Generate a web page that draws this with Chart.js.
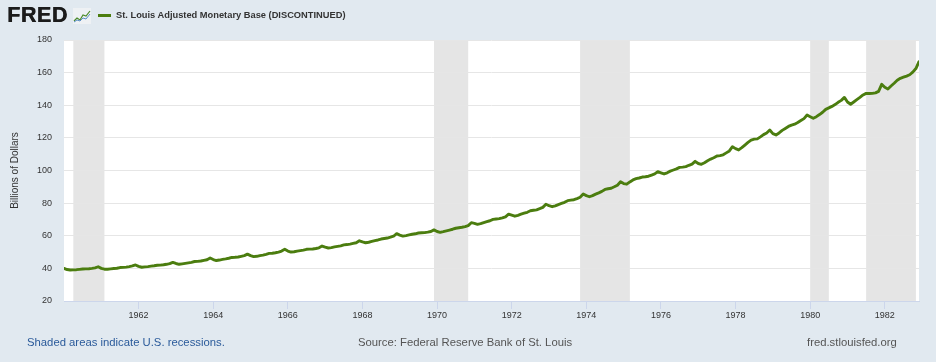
<!DOCTYPE html>
<html>
<head>
<meta charset="utf-8">
<script src="https://cdn.jsdelivr.net/npm/chart.js@4.4.1/dist/chart.umd.min.js"></script>
<style>
html,body{margin:0;padding:0;background:#e1e9f0;}
#wrap{position:relative;width:936px;height:362px;overflow:hidden;font-family:'Liberation Sans',Arial,sans-serif;background:#e1e9f0;}
#c{position:absolute;left:0;top:0;}
.logo{position:absolute;left:7px;top:1px;font-size:21.5px;font-weight:bold;letter-spacing:0.6px;color:#1b1b1b;line-height:28px;text-shadow:0.5px 0 0 #1b1b1b;}
.icon{position:absolute;left:73px;top:8px;}
.legline{position:absolute;left:98px;top:14px;width:13px;height:3px;background:#4b7d0f;}
.title{position:absolute;left:116px;top:9px;font-size:9.3px;font-weight:bold;color:#333;line-height:13px;white-space:nowrap;}
.foot{position:absolute;top:335px;font-size:11.3px;line-height:14px;white-space:nowrap;}
.f1{left:27px;color:#2a5a9a;}
.f2{left:358px;color:#555;}
.f3{left:807px;color:#555;}
</style>
</head>
<body>
<div id="wrap">
<canvas id="c" width="936" height="362"></canvas>
<div class="logo">FRED</div>
<svg class="icon" width="18" height="16" viewBox="0 0 18 16">
<rect x="0" y="0" width="18" height="16" fill="#eef1f4"/>
<polyline points="1,13 4,10 7,12 10,7 13,8 17,3" fill="none" stroke="#4b8a2a" stroke-width="1.2"/>
<polyline points="1,14 4,12 7,13 10,10 13,11 17,6" fill="none" stroke="#5b8fc7" stroke-width="1"/>
</svg>
<div class="legline"></div>
<div class="title">St. Louis Adjusted Monetary Base (DISCONTINUED)</div>
<div class="foot f1">Shaded areas indicate U.S. recessions.</div>
<div class="foot f2">Source: Federal Reserve Bank of St. Louis</div>
<div class="foot f3">fred.stlouisfed.org</div>
</div>
<script>
// Monthly data, January 1960 to December 1982 (billions of dollars)
const startYear = 1960;
const monetaryBase = [
  40.0, 39.3, 39.0, 39.1, 39.2, 39.4, 39.6, 39.7, 39.8, 40.0, 40.3, 41.0, // 1960
  40.0, 39.5, 39.5, 39.7, 39.9, 40.1, 40.5, 40.6, 40.8, 41.1, 41.5, 42.1, // 1961
  41.2, 40.7, 40.9, 41.1, 41.4, 41.6, 41.9, 42.0, 42.2, 42.5, 42.9, 43.7, // 1962
  43.0, 42.5, 42.8, 43.1, 43.4, 43.7, 44.2, 44.3, 44.5, 44.9, 45.3, 46.4, // 1963
  45.4, 44.8, 45.1, 45.5, 45.8, 46.2, 46.7, 46.8, 47.0, 47.4, 47.8, 48.7, // 1964
  47.8, 47.2, 47.4, 47.8, 48.1, 48.6, 49.2, 49.3, 49.6, 50.0, 50.6, 51.7, // 1965
  50.6, 50.0, 50.2, 50.6, 50.9, 51.2, 51.7, 51.8, 51.9, 52.2, 52.6, 53.7, // 1966
  53.0, 52.5, 52.7, 53.2, 53.5, 53.8, 54.4, 54.6, 54.9, 55.3, 55.7, 56.9, // 1967
  56.2, 55.7, 56.0, 56.5, 57.0, 57.4, 58.0, 58.3, 58.6, 59.1, 59.7, 61.3, // 1968
  60.4, 59.8, 60.1, 60.5, 60.9, 61.2, 61.7, 61.8, 61.9, 62.2, 62.6, 63.6, // 1969
  62.6, 62.1, 62.5, 63.0, 63.5, 64.0, 64.6, 64.9, 65.2, 65.6, 66.2, 68.0, // 1970
  67.6, 67.0, 67.4, 68.0, 68.6, 69.2, 70.0, 70.3, 70.5, 71.0, 71.6, 73.2, // 1971
  72.6, 72.0, 72.5, 73.2, 73.8, 74.4, 75.3, 75.6, 75.9, 76.6, 77.4, 79.3, // 1972
  78.4, 77.8, 78.3, 79.1, 79.8, 80.5, 81.5, 81.8, 82.1, 82.8, 83.6, 85.6, // 1973
  84.6, 83.9, 84.6, 85.5, 86.3, 87.2, 88.4, 88.8, 89.1, 90.0, 91.0, 93.1, // 1974
  92.0, 91.6, 93.0, 94.2, 95.0, 95.4, 96.0, 96.2, 96.5, 97.2, 97.9, 99.3, // 1975
  98.6, 97.9, 98.6, 99.6, 100.3, 101.0, 101.9, 102.1, 102.4, 103.2, 103.9, 105.6, // 1976
  104.3, 103.8, 104.8, 106.0, 107.0, 107.8, 108.9, 109.1, 109.6, 110.8, 112.0, 114.6, // 1977
  113.4, 112.6, 114.0, 115.6, 117.2, 118.6, 119.2, 119.4, 120.6, 122.0, 123.0, 124.8, // 1978
  122.6, 121.8, 123.0, 124.6, 125.8, 127.0, 127.8, 128.4, 129.4, 130.6, 131.8, 134.0, // 1979
  133.0, 132.0, 133.0, 134.3, 135.7, 137.5, 138.4, 139.3, 140.4, 141.8, 143.0, 144.8, // 1980
  142.0, 140.6, 142.0, 143.4, 144.8, 146.3, 147.3, 147.2, 147.3, 147.6, 148.5, 152.8, // 1981
  151.0, 150.0, 151.8, 153.5, 155.3, 156.5, 157.2, 157.9, 158.7, 160.3, 162.5, 166.7  // 1982
];
const xTickYears = [1962, 1964, 1966, 1968, 1970, 1972, 1974, 1976, 1978, 1980, 1982];
const yTicks = [20, 40, 60, 80, 100, 120, 140, 160, 180];
const recessions = [
  ['1960-04', '1961-02'],
  ['1969-12', '1970-11'],
  ['1973-11', '1975-03'],
  ['1980-01', '1980-07'],
  ['1981-07', '1982-11']
];

function ym(s){ const p = s.split('-'); return +p[0] + (+p[1] - 1) / 12; }
const points = monetaryBase.map((v, i) => ({ x: startYear + i / 12, y: v }));
const xMax = startYear + (monetaryBase.length - 1) / 12;

const areaPlugin = {
  id: 'area',
  beforeDraw(chart){
    const { ctx, chartArea: a, scales } = chart;
    ctx.save();
    ctx.fillStyle = '#ffffff';
    ctx.fillRect(a.left, a.top, a.right - a.left, a.bottom - a.top);
    ctx.fillStyle = '#e5e5e5';
    recessions.forEach(r => {
      const x0 = scales.x.getPixelForValue(ym(r[0]));
      const x1 = scales.x.getPixelForValue(ym(r[1]));
      ctx.fillRect(x0, a.top, x1 - x0, a.bottom - a.top);
    });
    ctx.restore();
  }
};

new Chart(document.getElementById('c'), {
  type: 'line',
  data: {
    datasets: [{
      data: points,
      borderColor: '#4b7d0f',
      borderWidth: 2.9,
      pointRadius: 0,
      tension: 0,
      fill: false,
      borderJoinStyle: 'round',
      borderCapStyle: 'round'
    }]
  },
  options: {
    responsive: false,
    animation: false,
    layout: { padding: { left: 0, right: 17, top: 40, bottom: 0 } },
    plugins: { legend: { display: false }, tooltip: { enabled: false } },
    scales: {
      x: {
        type: 'linear',
        min: startYear,
        max: xMax,
        afterBuildTicks(scale){ scale.ticks = xTickYears.map(v => ({ value: v })); },
        afterFit(scale){ scale.height = 61; },
        grid: { drawOnChartArea: false, color: '#ccd6eb', tickLength: 8 },
        border: { color: '#ccd6eb' },
        ticks: {
          autoSkip: false, maxRotation: 0, padding: 1,
          color: '#333', font: { family: 'Liberation Sans', size: 9 },
          callback: v => String(v)
        }
      },
      y: {
        min: 20, max: 180,
        afterBuildTicks(scale){ scale.ticks = yTicks.map(v => ({ value: v })); },
        afterFit(scale){ scale.width = 64; },
        grid: { color: '#e6e6e6', drawTicks: false },
        border: { display: false },
        ticks: { padding: 12, color: '#333', font: { family: 'Liberation Sans', size: 9 } },
        title: {
          display: true, text: 'Billions of Dollars', color: '#333',
          font: { family: 'Liberation Sans', size: 10 },
          padding: { top: 9, bottom: 0 }
        }
      }
    }
  },
  plugins: [areaPlugin]
});
</script>
</body>
</html>
